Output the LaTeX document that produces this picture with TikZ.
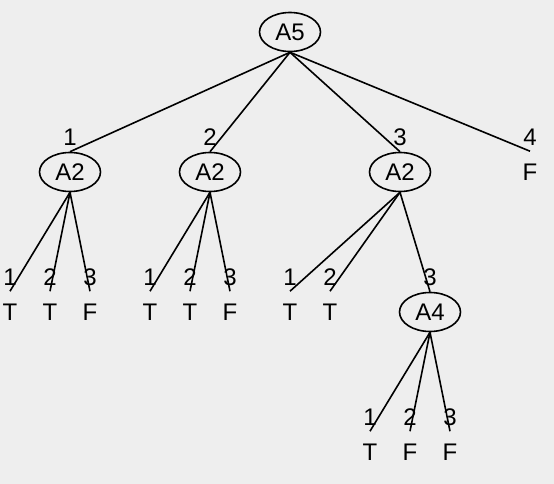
\documentclass[tikz,border=0pt]{standalone}
\usepackage{fontspec}
\setmainfont{Liberation Sans}
\usetikzlibrary{shapes.geometric,positioning}
\definecolor{bggray}{HTML}{EEEEEE}
\begin{document}
\begin{tikzpicture}[x=1pt, y=-1pt, line width=1.6pt,
  every node/.style={font=\fontsize{24}{28}\selectfont, inner sep=0pt},
  attr/.style={draw, ellipse, minimum width=61pt, minimum height=39pt},
  leaf/.style={minimum height=40pt},
  val/.style={above=5pt of #1}]

        % background
        \fill[bggray] (0,0) rectangle (554,484);

        % Root
        \node[attr] (a5) at (290,32) {A5};

        % First level
        \node[attr] (n1) at (70,172) {A2};
        \node[attr] (n2) at (210,172) {A2};
        \node[attr] (n3) at (400,172) {A2};
        \node[leaf] (n4) at (530,172) {F};
        \node[val=n1] (v1) {1};
        \node[val=n2] (v2) {2};
        \node[val=n3] (v3) {3};
        \node[val=n4] (v4) {4};
        \foreach \c in {n1,n2,n3,n4}
            \draw (a5.south) -- (\c.north);

        % Leaves under the first A2
        \node[leaf] (t11) at (10,312) {T};
        \node[leaf] (t12) at (50,312) {T};
        \node[leaf] (t13) at (90,312) {F};

        % Leaves under the second A2
        \node[leaf] (t21) at (150,312) {T};
        \node[leaf] (t22) at (190,312) {T};
        \node[leaf] (t23) at (230,312) {F};

        % Third A2 with A4 below it
        \node[leaf] (t31) at (290,312) {T};
        \node[leaf] (t32) at (330,312) {T};
        \node[attr] (a4) at (430,312) {A4};

        % Leaves under A4
        \node[leaf] (t41) at (370,452) {T};
        \node[leaf] (t42) at (410,452) {F};
        \node[leaf] (t43) at (450,452) {F};

        % Branch values and lines
        \foreach \p/\a/\b/\c in {n1/t11/t12/t13, n2/t21/t22/t23, n3/t31/t32/a4, a4/t41/t42/t43}{
            \node[val=\a] (\a-v) {1};
            \node[val=\b] (\b-v) {2};
            \node[val=\c] (\c-v) {3};
            \draw (\p.south) -- (\a.north);
            \draw (\p.south) -- (\b.north);
            \draw (\p.south) -- (\c.north);
        }

\end{tikzpicture}
\end{document}
